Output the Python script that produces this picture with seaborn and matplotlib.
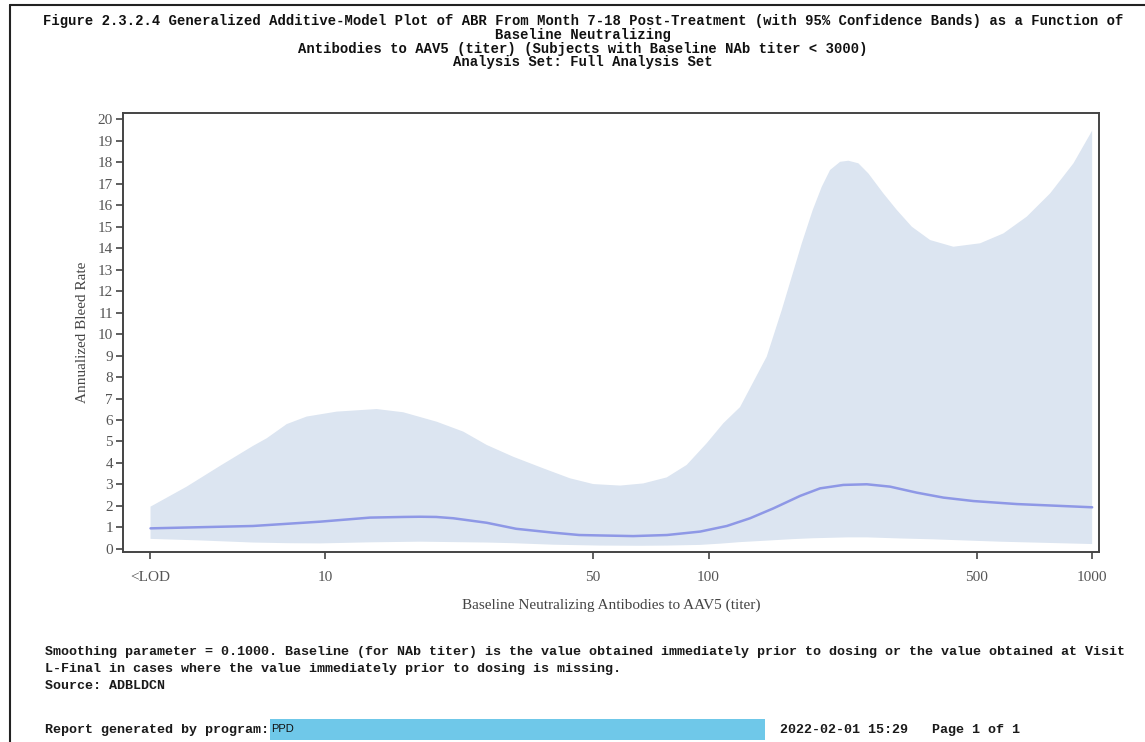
import numpy as np
import pandas as pd
import seaborn as sns
import matplotlib.pyplot as plt
from matplotlib.lines import Line2D
from matplotlib.patches import Rectangle

# ---- data ----
# fitted ABR curve
mean_titer = [3.51, 6.49, 9.7, 13.1, 16.0, 17.7, 19.5, 21.6, 26.4, 31.5, 39.3, 46.0, 52.1, 63.6,
              77.9, 95.1, 111.6, 128.3, 147.6, 173.3, 195.3, 224.6, 258.5, 297.3, 349.1,
              409.6, 490.3, 636.3, 1000.0]
abr_mean = [0.96, 1.07, 1.27, 1.46, 1.49, 1.50, 1.49, 1.43, 1.22, 0.94, 0.76, 0.65, 0.63, 0.60,
            0.65, 0.81, 1.07, 1.43, 1.89, 2.47, 2.82, 2.98, 3.01, 2.90, 2.62,
            2.39, 2.23, 2.09, 1.94]

# upper 95% confidence limit
upper_titer = [3.51, 4.36, 5.32, 6.50, 7.05, 7.95, 8.96, 10.73, 13.64, 16.0, 19.56, 22.94,
               26.4, 30.97, 37.1, 43.5, 50.06, 58.8, 67.6, 77.8, 87.7, 98.9, 109.3, 120.8,
               141.8, 155.2, 164.8, 175.0, 186.9, 197.3, 207.4, 220.3, 231.5, 245.8, 261.0,
               285.6, 309.6, 338.8, 378.2, 434.8, 510.5, 587.1, 675.5, 777.0, 893.9, 1000.0]
abr_upper = [1.97, 2.90, 3.86, 4.80, 5.15, 5.81, 6.16, 6.39, 6.51, 6.36, 5.92, 5.46,
             4.84, 4.29, 3.75, 3.29, 3.02, 2.95, 3.05, 3.33, 3.91, 4.92, 5.85, 6.60,
             8.95, 11.12, 12.67, 14.22, 15.77, 16.85, 17.63, 18.01, 18.06, 17.94, 17.47,
             16.54, 15.77, 14.99, 14.37, 14.06, 14.22, 14.68, 15.46, 16.54, 17.94, 19.46]

# lower 95% confidence limit
lower_titer = [3.51, 4.7, 6.5, 8.0, 9.7, 13.1, 17.7, 21.6, 26.4, 30.9, 39.3, 52.0, 66.3,
               78.0, 95.0, 107.6, 120.8, 142.0, 166.0, 187.0, 230.0, 259.0, 316.0, 385.0,
               444.0, 575.0, 702.0, 861.0, 1000.0]
abr_lower = [0.47, 0.40, 0.30, 0.27, 0.26, 0.31, 0.34, 0.32, 0.30, 0.27, 0.20, 0.16, 0.15,
             0.16, 0.19, 0.25, 0.32, 0.39, 0.46, 0.50, 0.54, 0.54, 0.49, 0.45,
             0.41, 0.34, 0.30, 0.26, 0.23]

xtick_values = [3.5, 10, 50, 100, 500, 1000]
xtick_labels = ["<LOD", "10", "50", "100", "500", "1000"]
ytick_values = list(range(0, 21))

title_lines = [
    "Figure 2.3.2.4 Generalized Additive-Model Plot of ABR From Month 7-18 Post-Treatment (with 95% Confidence Bands) as a Function of",
    "Baseline Neutralizing",
    "Antibodies to AAV5 (titer) (Subjects with Baseline NAb titer < 3000)",
    "Analysis Set: Full Analysis Set",
]
foot_lines = [
    "Smoothing parameter = 0.1000. Baseline (for NAb titer) is the value obtained immediately prior to dosing or the value obtained at Visit",
    "L-Final in cases where the value immediately prior to dosing is missing.",
    "Source: ADBLDCN",
]

df_mean = pd.DataFrame({"titer": mean_titer, "abr": abr_mean})

# ---- style ----
sns.set_style("ticks")
plt.rcParams["font.family"] = ["Liberation Serif", "DejaVu Serif"]

W, H = 1145, 742
fig = plt.figure(figsize=(W / 100, H / 100), dpi=100)
ax = fig.add_axes([122.7 / W, 1 - 552 / H, (1099 - 122.7) / W, (552 - 113) / H])

band_color = "#dce5f1"
line_color = "#8e98e6"

band_x = list(upper_titer) + list(lower_titer[::-1])
band_y = list(abr_upper) + list(abr_lower[::-1])
ax.fill(band_x, band_y, color=band_color, linewidth=0, zorder=1)
sns.lineplot(data=df_mean, x="titer", y="abr", ax=ax, color=line_color, linewidth=1.8, zorder=2)

ax.set_xscale("log")
ax.set_xlim(2.97, 1042)
ax.set_ylim(-0.14, 20.28)
ax.set_xticks(xtick_values)
ax.set_xticklabels(xtick_labels)
ax.xaxis.set_minor_locator(plt.NullLocator())
ax.set_yticks(ytick_values)
ax.set_yticklabels([str(v) for v in ytick_values])

for s in ax.spines.values():
    s.set_visible(True)
    s.set_color("#444444")
    s.set_linewidth(1.4)

ax.tick_params(axis="both", direction="out", length=5, width=1.2, color="#444444",
               labelcolor="#555555", labelsize=11)
ax.tick_params(axis="x", pad=9)
ax.tick_params(axis="y", pad=2)

ax.set_xlabel("Baseline Neutralizing Antibodies to AAV5 (titer)", fontsize=11, color="#444444", labelpad=10)
ax.set_ylabel("Annualized Bleed Rate", fontsize=11, color="#444444", labelpad=6)

mono = ["Liberation Mono", "DejaVu Sans Mono"]
title_y = [21, 34.5, 48.5, 62]
for txt, yy in zip(title_lines, title_y):
    fig.text(0.5 * (45 + 1121) / W, 1 - yy / H, txt, ha="center", va="center",
             family=mono, fontsize=10, fontweight="bold", color="#111111")

foot_y = [652, 669, 686]
for txt, yy in zip(foot_lines, foot_y):
    fig.text(45 / W, 1 - yy / H, txt, ha="left", va="center",
             family=mono, fontsize=9.6, fontweight="bold", color="#1a1a1a")

fig.text(45 / W, 1 - 730 / H, "Report generated by program:", ha="left", va="center",
         family=mono, fontsize=9.6, fontweight="bold", color="#1a1a1a")
fig.add_artist(Rectangle((270 / W, 1 - 740 / H), (765 - 270) / W, 21 / H,
                         transform=fig.transFigure, facecolor="#6fc8e9", edgecolor="none"))
fig.text(271 / W, 1 - 729 / H, "PPD", ha="left", va="center",
         family=["Liberation Sans", "DejaVu Sans"], fontsize=8, color="#111111")
fig.text(780 / W, 1 - 730 / H, "2022-02-01 15:29   Page 1 of 1", ha="left", va="center",
         family=mono, fontsize=9.6, fontweight="bold", color="#1a1a1a")

# page border (top and left)
fig.add_artist(Line2D([10 / W, 1], [1 - 5 / H, 1 - 5 / H], transform=fig.transFigure,
                      color="#222222", linewidth=1.5))
fig.add_artist(Line2D([10 / W, 10 / W], [0, 1 - 5 / H], transform=fig.transFigure,
                      color="#222222", linewidth=1.5))

fig.savefig("out.png", dpi=100)
